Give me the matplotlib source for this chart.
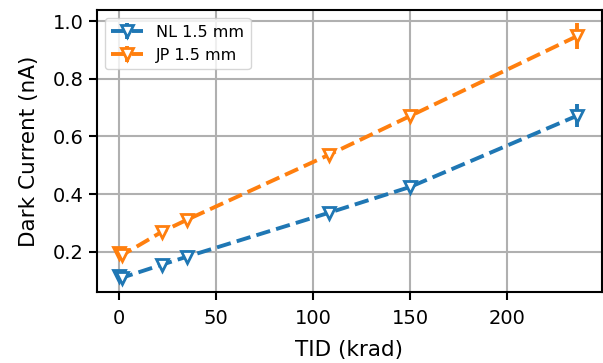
import numpy as np
import matplotlib
matplotlib.use("Agg")
from matplotlib import pyplot as plt

# TID dose points (krad)
tid = [0, 1.5, 22, 35, 108, 150, 236]
# dark current (nA)
nl_current = [0.115, 0.11, 0.155, 0.183, 0.335, 0.425, 0.672]
nl_err = [0.01, 0.01, 0.008, 0.008, 0.01, 0.012, 0.04]
jp_current = [0.195, 0.188, 0.269, 0.311, 0.536, 0.671, 0.948]
jp_err = [0.01, 0.01, 0.008, 0.008, 0.015, 0.015, 0.045]
labels = ["NL 1.5 mm", "JP 1.5 mm"]

fig = plt.figure(figsize=(6.03, 3.63), dpi=100)
ax = fig.add_axes([0.161, 0.196, 0.837, 0.776])

for y, err, c, lab in [(nl_current, nl_err, "#1f77b4", labels[0]),
                       (jp_current, jp_err, "#ff7f0e", labels[1])]:
    ax.errorbar(tid, y, yerr=err, color=c, linestyle="--", linewidth=2.8,
                marker="v", markersize=8, markerfacecolor="white", markeredgewidth=2,
                elinewidth=2.8, label=lab)

ax.set_xlim(-11.3, 248.7)
ax.set_ylim(0.061, 1.038)
ax.set_xticks([0, 50, 100, 150, 200])
ax.set_yticks([0.2, 0.4, 0.6, 0.8, 1.0])
ax.tick_params(labelsize=14, width=1.5, length=6)
ax.tick_params(axis="x", pad=6)
ax.grid(True, color="#b0b0b0", linewidth=1.5)
ax.set_axisbelow(True)
for s in ax.spines.values():
    s.set_linewidth(1.5)
ax.set_xlabel("TID (krad)", fontsize=15.5, labelpad=9)
ax.set_ylabel("Dark Current (nA)", fontsize=15.5, labelpad=10)
ax.legend(loc="upper left", fontsize=11.5)

fig.savefig("out.png", dpi=100)
